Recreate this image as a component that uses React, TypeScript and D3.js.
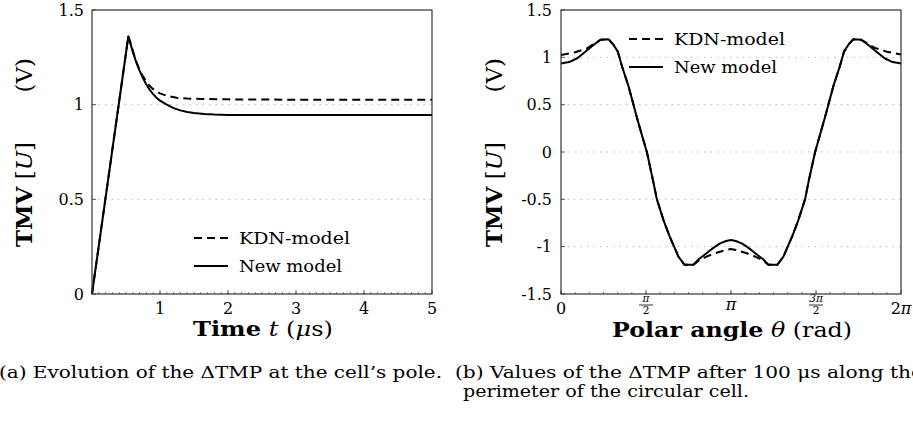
import React from 'react';
import * as d3 from 'd3';

// ---------- Data: (a) TMV at the cell's pole vs time (µs) ----------
const newTime = [0, 0.534, 0.56, 0.6, 0.65, 0.7, 0.75, 0.8, 0.85, 0.9, 0.95, 1.0, 1.1, 1.2, 1.3, 1.4, 1.5, 1.65, 1.8, 2.0, 2.5, 5];
const newPole = [0, 1.36, 1.33, 1.28, 1.225, 1.18, 1.14, 1.105, 1.078, 1.055, 1.036, 1.021, 1.0, 0.982, 0.97, 0.961, 0.956, 0.951, 0.948, 0.946, 0.945, 0.945];
const kdnTime = [0, 0.534, 0.56, 0.6, 0.632, 0.67, 0.706, 0.75, 0.8, 0.853, 0.9, 0.95, 1.0, 1.05, 1.15, 1.245, 1.4, 1.6, 2.0, 3, 5];
const kdnPole = [0, 1.36, 1.335, 1.285, 1.247, 1.21, 1.176, 1.15, 1.122, 1.097, 1.082, 1.07, 1.06, 1.053, 1.043, 1.036, 1.032, 1.03, 1.028, 1.026, 1.026];

// ---------- Data: (b) TMV along the perimeter vs polar angle ----------
const newTheta = [0, 0.15, 0.3, 0.45, 0.6, 0.73, 0.88, 0.96, 1.05, 1.13, 1.25, 1.4, 1.5, 1.587, 1.7, 1.772, 1.9, 2.0, 2.09, 2.17, 2.28, 2.45, 2.55, 2.69, 2.82, 2.94, 3.05, 3.1416,
  3.23, 3.34, 3.46, 3.59, 3.73, 3.83, 4.0, 4.11, 4.19, 4.28, 4.38, 4.51, 4.58, 4.696, 4.78, 4.88, 5.03, 5.15, 5.23, 5.32, 5.4, 5.55, 5.68, 5.83, 5.98, 6.13, 6.283];
const newPerim = [0.935, 0.95, 0.99, 1.06, 1.13, 1.185, 1.19, 1.14, 1.06, 0.9, 0.69, 0.37, 0.17, 0.0, -0.3, -0.5, -0.73, -0.88, -1.0, -1.105, -1.19, -1.19, -1.13, -1.07, -1.01, -0.965, -0.94, -0.93,
  -0.94, -0.965, -1.01, -1.07, -1.13, -1.19, -1.19, -1.105, -1.0, -0.88, -0.73, -0.5, -0.3, 0.0, 0.17, 0.37, 0.69, 0.9, 1.06, 1.14, 1.19, 1.185, 1.13, 1.06, 0.99, 0.95, 0.935];
const kdnTheta = [0, 0.26, 0.48, 0.6, 0.73, 0.88, 0.96, 1.05, 1.13, 1.25, 1.4, 1.5, 1.587, 1.7, 1.772, 1.9, 2.0, 2.09, 2.17, 2.28, 2.45, 2.55, 2.69, 2.82, 2.94, 3.05, 3.1416,
  3.23, 3.34, 3.46, 3.59, 3.73, 3.83, 4.0, 4.11, 4.19, 4.28, 4.38, 4.51, 4.58, 4.696, 4.78, 4.88, 5.03, 5.15, 5.23, 5.32, 5.4, 5.55, 5.68, 5.8, 6.02, 6.283];
const kdnPerim = [1.025, 1.053, 1.095, 1.14, 1.185, 1.19, 1.14, 1.06, 0.9, 0.69, 0.37, 0.17, 0.0, -0.3, -0.5, -0.73, -0.88, -1.0, -1.105, -1.19, -1.19, -1.145, -1.105, -1.075, -1.053, -1.035, -1.025,
  -1.035, -1.053, -1.075, -1.105, -1.145, -1.19, -1.19, -1.105, -1.0, -0.88, -0.73, -0.5, -0.3, 0.0, 0.17, 0.37, 0.69, 0.9, 1.06, 1.14, 1.19, 1.185, 1.14, 1.1, 1.06, 1.03];

// ---------- Ticks ----------
const leftXTicks = [1, 2, 3, 4, 5];
const leftYTicks = [0, 0.5, 1, 1.5];
const leftYLabels = ['0', '0.5', '1', '1.5'];
const rightYTicks = [-1.5, -1, -0.5, 0, 0.5, 1, 1.5];
const rightYLabels = ['-1.5', '-1', '-0.5', '0', '0.5', '1', '1.5'];
const rightXTicks = [0, Math.PI / 2, Math.PI, (3 * Math.PI) / 2, 2 * Math.PI];
const legendLabels = ['KDN-model', 'New model'];

const FONT = '"DejaVu Serif", "Liberation Serif", serif';
const AX = '#333';

type P = [number, number];
const zip = (xs: number[], ys: number[]): P[] => xs.map((x, i) => [x, ys[i]]);

export default function App() {
  const xL = d3.scaleLinear().domain([0, 5]).range([92, 432]);
  const yL = d3.scaleLinear().domain([0, 1.5]).range([294, 10]);
  const xR = d3.scaleLinear().domain([0, 2 * Math.PI]).range([561, 901]);
  const yR = d3.scaleLinear().domain([-1.5, 1.5]).range([294, 10]);

  const lineL = d3.line<P>().x(d => xL(d[0])).y(d => yL(d[1])).curve(d3.curveLinear);
  const lineR = d3.line<P>().x(d => xR(d[0])).y(d => yR(d[1])).curve(d3.curveLinear);

  const leftMinor = d3.range(0, 50).map(i => i * 0.1);
  const rightMinor = d3.range(0, 24).map(i => (i * Math.PI) / 12);

  const dash = '8 5';

  const legend = (lx: number, ly: number) => (
    <g fontFamily={FONT} fontSize={16.5}>
      <line x1={lx} x2={lx + 34} y1={ly} y2={ly} stroke="#000" strokeWidth={2} strokeDasharray={dash} />
      <text x={lx + 45} y={ly + 6} textLength={111} lengthAdjust="spacingAndGlyphs">{legendLabels[0]}</text>
      <line x1={lx} x2={lx + 34} y1={ly + 28} y2={ly + 28} stroke="#000" strokeWidth={2} />
      <text x={lx + 45} y={ly + 34} textLength={103} lengthAdjust="spacingAndGlyphs">{legendLabels[1]}</text>
    </g>
  );

  const yTitle = (bx: number) => (
    <g fontFamily={FONT}>
      <text transform={`translate(${bx},247) rotate(-90)`} fontSize={23}>
        <tspan fontWeight="bold">TMV</tspan>
        <tspan> [</tspan>
        <tspan fontStyle="italic">U</tspan>
        <tspan>]</tspan>
      </text>
      <text transform={`translate(${bx},58) rotate(-90)`} fontSize={23} textAnchor="end">(V)</text>
    </g>
  );

  const fracLabel = (num: string, x: number) => (
    <g fontFamily={FONT}>
      <text x={x} y={302} fontSize={10.5} textAnchor="middle" fontStyle="italic">{num}</text>
      <line x1={x - 7} x2={x + 7} y1={305} y2={305} stroke="#000" strokeWidth={0.8} />
      <text x={x} y={314} fontSize={10.5} textAnchor="middle">2</text>
    </g>
  );

  return (
    <svg width={913} height={436} style={{ position: 'absolute', left: 0, top: 0, background: '#fff' }}>
      <rect width={913} height={436} fill="#fff" />
      {/* ===== Left panel ===== */}
      <g>
        {[0.5, 1].map(v => (
          <line key={v} x1={xL(0)} x2={xL(5)} y1={yL(v)} y2={yL(v)} stroke="#bbb" strokeWidth={1} strokeDasharray="1.5 5" />
        ))}
        {leftMinor.map((v, i) => (
          <line key={'m' + i} x1={xL(v)} x2={xL(v)} y1={yL(0)} y2={yL(0) - 2} stroke={AX} strokeWidth={0.6} />
        ))}
        {leftXTicks.map(v => (
          <g key={v}>
            <line x1={xL(v)} x2={xL(v)} y1={yL(0)} y2={yL(0) - 4} stroke={AX} strokeWidth={0.8} />
            <text x={xL(v)} y={314} fontSize={16} fontFamily={FONT} textAnchor="middle">{v}</text>
          </g>
        ))}
        {leftYTicks.map((v, i) => (
          <g key={v}>
            <line x1={xL(0)} x2={xL(0) + 4} y1={yL(v)} y2={yL(v)} stroke={AX} strokeWidth={0.8} />
            <text x={84} y={yL(v)} dy="0.36em" fontSize={16} fontFamily={FONT} textAnchor="end">{leftYLabels[i]}</text>
          </g>
        ))}
        <path d={lineL(zip(kdnTime, kdnPole)) || ''} fill="none" stroke="#000" strokeWidth={2} strokeDasharray={dash} strokeLinejoin="round" />
        <path d={lineL(zip(newTime, newPole)) || ''} fill="none" stroke="#000" strokeWidth={2} strokeLinejoin="round" />
        <rect x={92} y={10} width={340} height={284} fill="none" stroke={AX} strokeWidth={1.2} />
        {legend(194, 238)}
        {yTitle(32)}
        <text x={263} y={336} fontSize={20} fontFamily={FONT} textAnchor="middle" textLength={140} lengthAdjust="spacingAndGlyphs">
          <tspan fontWeight="bold">Time</tspan>
          <tspan> </tspan>
          <tspan fontStyle="italic">t</tspan>
          <tspan> (</tspan>
          <tspan fontStyle="italic">μ</tspan>
          <tspan>s)</tspan>
        </text>
      </g>

      {/* ===== Right panel ===== */}
      <g>
        {[-1, -0.5, 0, 0.5, 1].map(v => (
          <line key={v} x1={xR(0)} x2={xR(2 * Math.PI)} y1={yR(v)} y2={yR(v)} stroke="#bbb" strokeWidth={1} strokeDasharray="1.5 5" />
        ))}
        {rightMinor.map((v, i) => (
          <line key={'m' + i} x1={xR(v)} x2={xR(v)} y1={yR(-1.5)} y2={yR(-1.5) - 2} stroke={AX} strokeWidth={0.6} />
        ))}
        {rightXTicks.map((v, i) => (
          <line key={i} x1={xR(v)} x2={xR(v)} y1={yR(-1.5)} y2={yR(-1.5) - 4} stroke={AX} strokeWidth={0.8} />
        ))}
        <text x={xR(rightXTicks[0])} y={314} fontSize={16} fontFamily={FONT} textAnchor="middle">0</text>
        {fracLabel('π', xR(rightXTicks[1]))}
        <text x={xR(rightXTicks[2])} y={310} fontSize={16} fontFamily={FONT} textAnchor="middle" fontStyle="italic">π</text>
        {fracLabel('3π', xR(rightXTicks[3]))}
        <text x={xR(rightXTicks[4])} y={314} fontSize={16} fontFamily={FONT} textAnchor="middle">2<tspan fontStyle="italic">π</tspan></text>
        {rightYTicks.map((v, i) => (
          <g key={v}>
            <line x1={xR(0)} x2={xR(0) + 4} y1={yR(v)} y2={yR(v)} stroke={AX} strokeWidth={0.8} />
            <text x={552} y={yR(v)} dy="0.36em" fontSize={16} fontFamily={FONT} textAnchor="end">{rightYLabels[i]}</text>
          </g>
        ))}
        <path d={lineR(zip(kdnTheta, kdnPerim)) || ''} fill="none" stroke="#000" strokeWidth={2} strokeDasharray={dash} strokeLinejoin="round" />
        <path d={lineR(zip(newTheta, newPerim)) || ''} fill="none" stroke="#000" strokeWidth={2} strokeLinejoin="round" />
        <rect x={561} y={10} width={340} height={284} fill="none" stroke={AX} strokeWidth={1.2} />
        {legend(629, 39)}
        {yTitle(502)}
        <text x={732} y={337} fontSize={20} fontFamily={FONT} textAnchor="middle" textLength={240} lengthAdjust="spacingAndGlyphs">
          <tspan fontWeight="bold">Polar angle</tspan>
          <tspan> </tspan>
          <tspan fontStyle="italic">θ</tspan>
          <tspan> (rad)</tspan>
        </text>
      </g>

      {/* ===== Captions ===== */}
      <g fontFamily={FONT} fontSize={16}>
        <text x={-1} y={378} textLength={443} lengthAdjust="spacingAndGlyphs">(a) Evolution of the ΔTMP at the cell’s pole.</text>
        <text x={455} y={378} textLength={468} lengthAdjust="spacingAndGlyphs">(b) Values of the ΔTMP after 100 μs along the</text>
        <text x={463} y={397} textLength={286} lengthAdjust="spacingAndGlyphs">perimeter of the circular cell.</text>
      </g>
    </svg>
  );
}
